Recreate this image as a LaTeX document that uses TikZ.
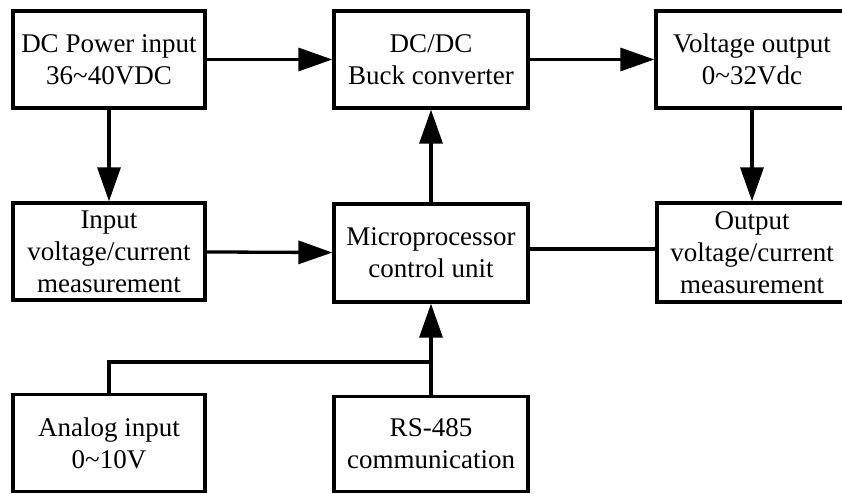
\documentclass[tikz,border=0pt]{standalone}
\usepackage{fontspec}
\setmainfont{Liberation Serif}
\usetikzlibrary{arrows.meta}
\begin{document}
\begin{tikzpicture}[x=1pt,y=-1pt,
  blk/.style={draw=black,line width=3.3pt,inner sep=0pt,align=center,
    font=\fontsize{27}{32}\selectfont},
  conn/.style={line width=3.3pt,draw=black},
  arr/.style={conn,-{Triangle[length=34pt,width=23pt]}}]
\useasboundingbox (0,0) rectangle (842,494);
\clip (0,0) rectangle (842,494);
\fill[white] (0,0) rectangle (842,494);
\node[blk,minimum width=192pt,minimum height=97pt] (dcin) at (109,59.5) {DC Power input\\36\textasciitilde40VDC};
\node[blk,minimum width=194pt,minimum height=97pt] (buck) at (431,59.5) {DC/DC\\Buck converter};
\node[blk,minimum width=192pt,minimum height=97pt] (vout) at (752,59.5) {Voltage output\\0\textasciitilde32Vdc};
\node[blk,minimum width=192pt,minimum height=97pt] (inmeas) at (109,251.5) {Input\\voltage/current\\measurement};
\node[blk,minimum width=194pt,minimum height=98pt] (micro) at (431,253) {Microprocessor\\control unit};
\node[blk,minimum width=190pt,minimum height=99pt] (outmeas) at (752,252.5) {Output\\voltage/current\\measurement};
\node[blk,minimum width=192pt,minimum height=97pt] (analog) at (109,443) {Analog input\\0\textasciitilde10V};
\node[blk,minimum width=194pt,minimum height=95pt] (rs) at (431,444) {RS-485\\communication};
\coordinate (j) at (109,362);
\draw[arr] (dcin) -- (buck);
\draw[arr] (buck) -- (vout);
\draw[arr] (dcin) -- (inmeas);
\draw[arr] (vout) -- (outmeas);
\draw[arr] (inmeas) -- (micro);
\draw[arr] (micro) -- (buck);
\draw[conn] ([yshift=4pt]micro.east) -- ([yshift=4pt]micro.east -| outmeas.west);
\draw[arr] (rs) -- (micro);
\draw[conn] (analog.north) -- (j) -- (j -| rs.north);
\end{tikzpicture}
\end{document}
